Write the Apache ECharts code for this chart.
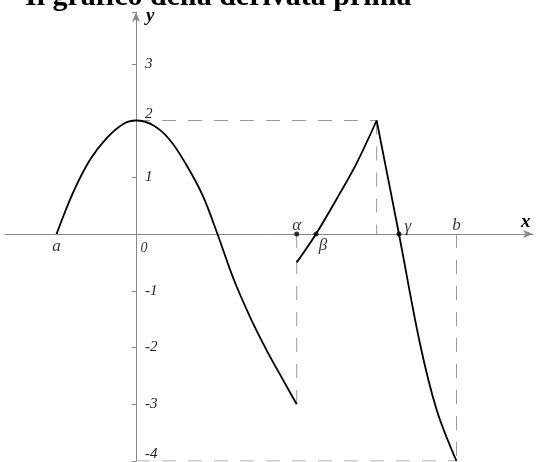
<!DOCTYPE html>
<html>
<head>
<meta charset="utf-8">
<script src="https://cdn.jsdelivr.net/npm/echarts@6/dist/echarts.min.js"></script>
<style>
  html, body { margin: 0; padding: 0; background: #fff; }
  #chart { width: 536px; height: 462px; }
</style>
</head>
<body>
<div id="chart"></div>
<script>
// derivative graph pieces
const curve1X = [-1.40, -1.105, -0.81, -0.516, -0.224, 0, 0.294, 0.587, 0.881, 1.175, 1.436, 1.715, 2.009, 2.303, 2.596, 2.832];
const curve1Y = [0, 0.74, 1.31, 1.69, 1.94, 2, 1.92, 1.67, 1.23, 0.68, 0, -0.78, -1.46, -2.05, -2.58, -3];
const curve2X = [2.832, 3.172, 3.595, 3.889, 4.241];
const curve2Y = [-0.5, 0, 0.72, 1.25, 2];
const curve3X = [4.241, 4.634, 5.004, 5.299, 5.648];
const curve3Y = [2, 0, -1.93, -3.10, -4];

// dashed guide segments
const guideX = [[0, 4.241], [4.241, 4.241], [2.832, 2.832], [5.648, 5.648], [0, 5.648]];
const guideY = [[2, 2], [2, 0], [0, -3], [0, -4], [-4, -4]];

// points marked on the x axis
const markNames = ['a', '0', 'α', 'β', 'γ', 'b'];
const markX = [-1.40, 0, 2.832, 3.172, 4.634, 5.648];
const markDot = [false, false, true, true, true, false];

const yTicks = [-4, -3, -2, -1, 0, 1, 2, 3];

let myChart = echarts.init(document.getElementById('chart'));

function pairs(xs, ys) {
    return xs.map((x, i) => [x, ys[i]]);
}

let guideData = [];
guideX.forEach((seg, i) => {
    guideData.push([seg[0], guideY[i][0]], [seg[1], guideY[i][1]], '-');
});

const labelFont = {
    fontFamily: 'Liberation Serif',
    fontStyle: 'italic',
    fontSize: 17,
    color: '#000'
};
const labelPlace = {
    'a': { position: 'bottom', offset: [0, 3], distance: 1 },
    '0': { position: 'bottom', offset: [8, 4], distance: 3 },
    'α': { position: 'top', offset: [0, 4], distance: 1 },
    'β': { position: 'bottom', offset: [7, 1], distance: 0 },
    'γ': { position: 'top', offset: [9, 4], distance: 0 },
    'b': { position: 'top', offset: [0, 3], distance: 3 }
};

let markData = markNames.map((n, i) => ({
    value: [markX[i], 0],
    symbolSize: markDot[i] ? 5 : 0,
    label: Object.assign({ show: true, formatter: n }, labelFont, labelPlace[n],
        n === '0' ? { fontSize: 14 } : {})
}));

function curveSeries(xs, ys) {
    return {
        type: 'line',
        data: pairs(xs, ys),
        smooth: 0.35,
        showSymbol: false,
        lineStyle: { color: '#000', width: 1.8 },
        z: 3
    };
}

let options = {
    animation: false,
    title: {
        text: 'Il grafico della derivata prima',
        left: 20,
        top: -23,
        textStyle: {
            fontFamily: 'Liberation Serif',
            fontWeight: 'bold',
            fontSize: 30,
            color: '#000'
        }
    },
    grid: {
        left: 5,
        right: 3,
        top: 12,
        bottom: 1
    },
    xAxis: {
        type: 'value',
        min: -2.308,
        max: 6.996,
        name: 'x',
        nameLocation: 'end',
        nameGap: -12,
        nameTextStyle: {
            fontFamily: 'Liberation Serif',
            fontStyle: 'italic',
            fontWeight: 'bold',
            fontSize: 19,
            color: '#000',
            verticalAlign: 'bottom',
            padding: [0, 0, 2, 0]
        },
        axisLine: {
            onZero: true,
            symbol: ['none', 'arrow'],
            symbolSize: [6, 10],
            lineStyle: { color: '#888', width: 1 }
        },
        axisTick: { show: false },
        axisLabel: { show: false },
        splitLine: { show: false }
    },
    yAxis: {
        type: 'value',
        min: -4,
        max: 3.912,
        interval: 1,
        name: 'y',
        nameLocation: 'end',
        nameGap: -14,
        nameTextStyle: {
            fontFamily: 'Liberation Serif',
            fontStyle: 'italic',
            fontWeight: 'bold',
            fontSize: 19,
            color: '#000',
            align: 'left',
            padding: [0, 0, 0, 10]
        },
        axisLine: {
            onZero: true,
            symbol: ['none', 'arrow'],
            symbolSize: [6, 10],
            lineStyle: { color: '#888', width: 1 }
        },
        axisTick: { show: true, length: 4, lineStyle: { color: '#888' } },
        axisLabel: {
            inside: true,
            margin: 140,
            fontFamily: 'Liberation Serif',
            fontStyle: 'italic',
            fontSize: 15,
            color: '#222',
            formatter: function (v) {
                if (v === 0 || yTicks.indexOf(v) < 0) return '';
                return (v === 2 || v === -4) ? '{up|' + v + '}' : String(v);
            },
            rich: {
                up: {
                    fontFamily: 'Liberation Serif',
                    fontStyle: 'italic',
                    fontSize: 15,
                    color: '#222',
                    padding: [0, 0, 13, 0]
                }
            }
        },
        splitLine: { show: false }
    },
    series: [
        {
            type: 'line',
            data: guideData,
            showSymbol: false,
            connectNulls: false,
            lineStyle: { color: '#999', width: 1, type: [14, 12] },
            z: 1
        },
        curveSeries(curve1X, curve1Y),
        curveSeries(curve2X, curve2Y),
        curveSeries(curve3X, curve3Y),
        {
            type: 'scatter',
            data: markData,
            symbol: 'circle',
            itemStyle: { color: '#000' },
            z: 4
        }
    ]
};

myChart.setOption(options);
</script>
</body>
</html>
